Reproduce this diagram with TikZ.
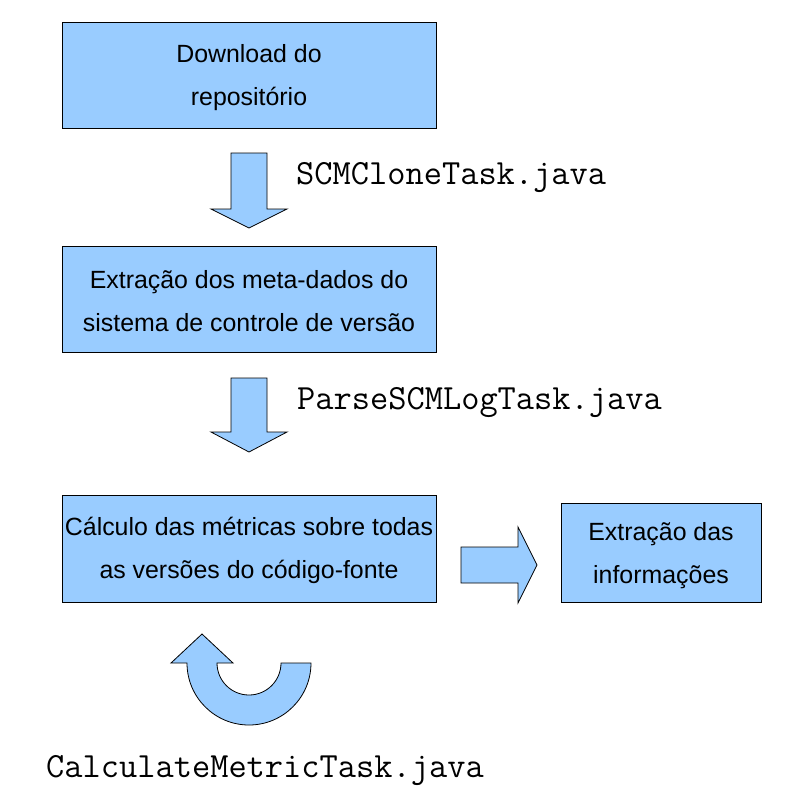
\documentclass[tikz,border=0pt]{standalone}
\usepackage{fontspec}
\setmainfont{Liberation Sans}
\newfontfamily\monofont{Latin Modern Mono}
\definecolor{boxblue}{HTML}{99CCFF}
\begin{document}
\begin{tikzpicture}[x=1pt,y=-1pt,
  box/.style={draw=black, line width=0.8pt, fill=boxblue, inner sep=0pt},
  lbl/.style={font=\fontsize{24.9}{42.5}\selectfont, align=center, inner sep=0pt},
  shp/.style={draw=black, line width=0.8pt, fill=boxblue, line join=miter},
  code/.style={font=\monofont\fontsize{35.4}{40}\selectfont, anchor=base west, inner sep=0pt}]
\useasboundingbox[fill=white] (0,0) rectangle (798,796);
% boxes
\node[box, minimum width=374pt, minimum height=106pt] (b1) at (249,75) {};
\node[box, minimum width=374pt, minimum height=106pt] (b2) at (249,299) {};
\node[box, minimum width=374pt, minimum height=107pt] (b3) at (249,548.5) {};
\node[box, minimum width=200pt, minimum height=99pt] (b4) at (661,553) {};
\node[lbl] (l1) at ([yshift=-2.5pt]b1.center) {Download do\\repositório};
\node[lbl] (l2) at ([yshift=-2pt]b2.center) {Extração dos meta-dados do\\sistema de controle de versão};
\node[lbl] (l3) at ([yshift=-2pt]b3.center) {Cálculo das métricas sobre todas\\as versões do código-fonte};
\node[lbl] (l4) at ([yshift=-2.5pt]b4.center) {Extração das\\informações};
% block arrows
\draw[shp] (231,153) -- (267,153) -- (267,209) -- (287,209) -- (249,228) -- (211,209) -- (231,209) -- cycle;
\draw[shp] (231,378) -- (267,378) -- (267,432) -- (287,432) -- (249,452) -- (211,432) -- (231,432) -- cycle;
\draw[shp] (461,547) -- (518,547) -- (518,527) -- (537,565) -- (518,603) -- (518,583) -- (461,583) -- cycle;
\draw[shp] (311,663) arc[start angle=0, end angle=180, radius=62] -- (171,663) -- (202,634) -- (233,663) -- (217,663) arc[start angle=180, end angle=0, radius=32] -- cycle;
% code labels
\node[code] (t1) at (296,184) {SCMCloneTask.java};
\node[code] (t2) at (297,409) {ParseSCMLogTask.java};
\node[code] (t3) at (46,777) {CalculateMetricTask.java};
\end{tikzpicture}
\end{document}
